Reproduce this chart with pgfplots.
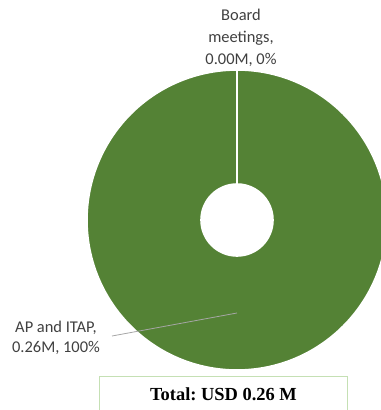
\documentclass[border=0pt]{standalone}
\usepackage{pgfplots}
\pgfplotsset{compat=1.18}
\usepackage{pgfplotstable}
\usepackage{fontspec}
\setmainfont{Carlito}
\newfontfamily\totalfont{Liberation Serif}
\definecolor{slicegreen}{HTML}{548235}
\definecolor{labelgray}{HTML}{404040}
\definecolor{leadergray}{HTML}{A6A6A6}
\definecolor{boxgreen}{HTML}{C5E0B4}
\frenchspacing

\pgfplotstableread[col sep=comma]{
label,value
Board meetings,0.00
AP and ITAP,0.26
}\slices

\pgfplotstablegetelem{0}{value}\of\slices \let\vA\pgfplotsretval
\pgfplotstablegetelem{1}{value}\of\slices \let\vB\pgfplotsretval
\pgfmathsetmacro\total{\vA+\vB}
\pgfmathsetmacro\sweepA{360*\vA/\total}
\pgfmathsetmacro\sweepB{360*\vB/\total}
\pgfmathsetmacro\startA{90}
\pgfmathsetmacro\startB{90-\sweepA}

\begin{document}
\begin{tikzpicture}
\begin{axis}[
  scale only axis, width=381bp, height=410bp,
  xmin=0, xmax=381, ymin=0, ymax=410,
  hide axis, clip=true,
]
% donut slices
\begin{scope}[shift={(axis cs:237,190)}]
  \fill[slicegreen, draw=white, line width=1.6bp]
    (\startB:36bp) -- (\startB:150bp)
    arc[start angle=\startB, delta angle=-\sweepB, radius=150bp]
    -- (\startB-\sweepB:36bp)
    arc[start angle=\startB-\sweepB, delta angle=\sweepB, radius=36bp] -- cycle;
  \draw[white, line width=1.6bp] (\startA:36bp) -- (\startA:150bp);
\end{scope}
% leader line
\draw[leadergray, line width=0.8bp] (axis cs:112,74) -- (axis cs:237,97);
% labels
\node[align=center, text=labelgray, font=\fontsize{16.5}{21.7}\selectfont]
  at (axis cs:241,372.2) {Board\\meetings,\\0.00M, 0\%};
\node[align=center, text=labelgray, font=\fontsize{16.5}{19.5}\selectfont]
  at (axis cs:56,72) {AP and ITAP,\\0.26M, 100\%};
% total box
\draw[boxgreen, line width=0.8bp] (axis cs:99,34) rectangle (axis cs:347,-10);
\node[font=\totalfont\bfseries\fontsize{18.5}{20}\selectfont, text=black]
  at (axis cs:223.5,16) {Total: USD 0.26 M};
\end{axis}
\pgfresetboundingbox
\path (current axis.south west) rectangle (current axis.north east);
\end{tikzpicture}
\end{document}
